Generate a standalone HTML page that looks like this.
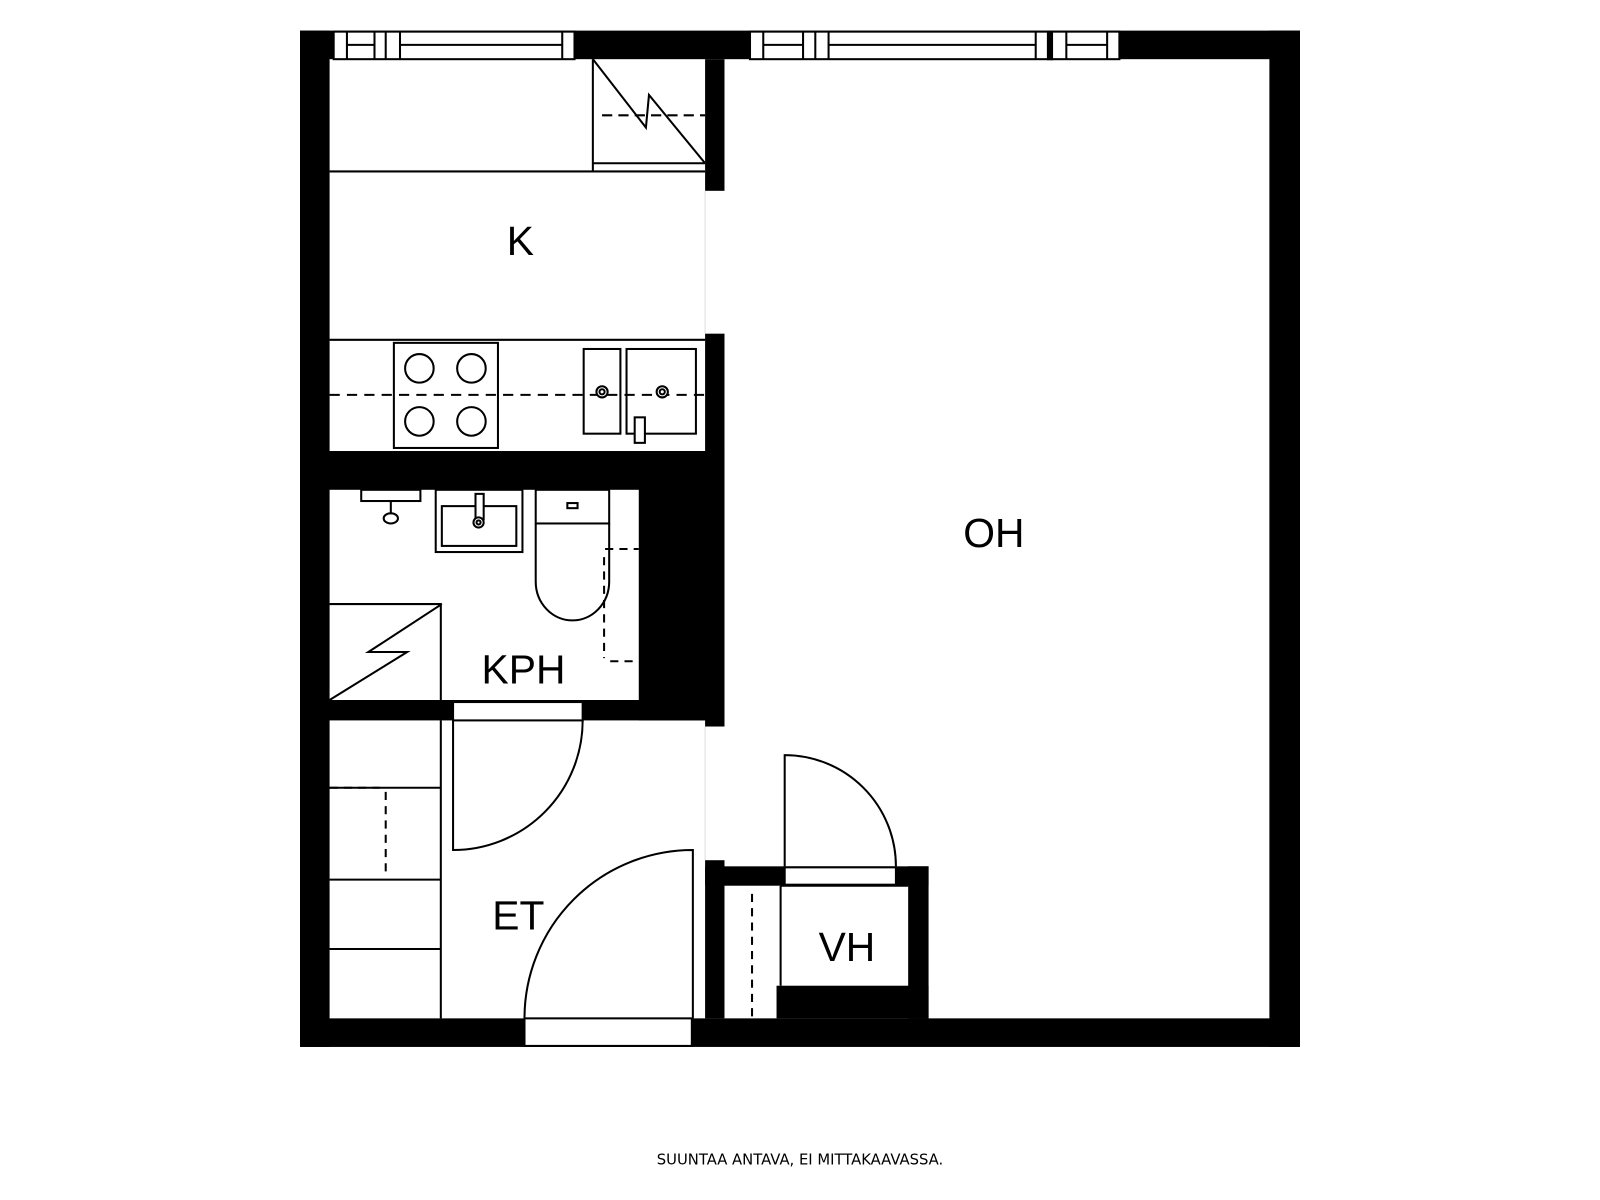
<!DOCTYPE html>
<html><head><meta charset="utf-8"><style>html,body{margin:0;padding:0;background:#fff}svg{display:block}</style></head>
<body>
<svg width="1600" height="1200" viewBox="0 0 1568 1176" xmlns="http://www.w3.org/2000/svg">
<rect width="1568" height="1176" fill="#fff"/>
<g fill="#000">
<rect x="294" y="30" width="980" height="28"/>
<rect x="294" y="30" width="29" height="996"/>
<rect x="1244" y="30" width="30" height="996"/>
<rect x="294" y="998" width="980" height="28"/>
<rect x="691" y="58" width="19" height="129"/>
<rect x="691" y="327" width="19" height="115"/>
<rect x="294" y="442" width="416" height="38"/>
<rect x="626" y="442" width="84" height="264"/>
<rect x="691" y="442" width="19" height="270"/>
<rect x="294" y="686" width="416" height="20"/>
<rect x="691" y="843" width="19" height="155"/>
<rect x="691" y="849" width="219" height="19"/>
<rect x="890" y="849" width="20" height="149"/>
<rect x="761" y="966" width="149" height="32"/>
</g>
<g fill="#fff" stroke="#000" stroke-width="2">
<rect x="327" y="31" width="236" height="27"/>
<rect x="735" y="31" width="362" height="27"/>
<rect x="444" y="688" width="127" height="18"/>
<rect x="514" y="998" width="164" height="27"/>
<rect x="769" y="850" width="109" height="17"/>
</g>
<g stroke="#000" stroke-width="2" fill="none">
<path d="M340 31V58M367 31V58M378 31V58M392 31V58M551 31V58M340 44H367M392 44H551"/>
<path d="M748 31V58M787 31V58M799 31V58M812 31V58M1015 31V58M1027 31V58M1045 31V58M1085 31V58M748 44H787M812 44H1015M1045 44H1085"/>
<rect x="1027" y="31" width="4" height="27" fill="#000"/>
<path d="M323 168H691M581 58V168M581 160H691M581 58L633 125L636 93L691 160"/>
<path d="M590 113H691" stroke-dasharray="10 6"/>
<path d="M323 333H691"/>
<path d="M323 387H691" stroke-dasharray="10 7"/>
<rect x="386" y="336" width="102" height="103" fill="none"/>
<circle cx="411" cy="361" r="14"/><circle cx="462" cy="361" r="14"/>
<circle cx="411" cy="413" r="14"/><circle cx="462" cy="413" r="14"/>
<rect x="572" y="342" width="36" height="83"/>
<rect x="614" y="342" width="68" height="83"/>
<circle cx="590" cy="384" r="5.5" fill="#fff"/><circle cx="590" cy="384" r="2.5"/>
<circle cx="649" cy="384" r="5.5" fill="#fff"/><circle cx="649" cy="384" r="2.5"/>
<rect x="622" y="409" width="10" height="25" fill="#fff"/>
<rect x="354" y="480" width="58" height="11"/>
<path d="M383 491V504"/>
<ellipse cx="383" cy="508" rx="7" ry="5"/>
<rect x="427" y="480" width="85" height="61"/>
<rect x="433" y="496" width="73" height="39"/>
<rect x="466" y="484" width="8" height="25" fill="#fff"/>
<circle cx="469" cy="512" r="5" fill="#fff"/><circle cx="469" cy="512" r="2"/>
<rect x="525" y="480" width="72" height="33"/>
<rect x="556" y="493" width="10" height="5"/>
<path d="M525 513V570A36 38 0 0 0 597 570V513"/>
<path d="M593 538H626M592 546V645M598 648H626" stroke-dasharray="8 6"/>
<path d="M323 592H432V686M323 686L399 639L361 639L433 592"/>
<path d="M432 706V998M323 772H432M323 862H432M323 930H432"/>
<path d="M323 772H372M378 776V857" stroke-dasharray="8 6"/>
<path d="M444 706V833A127 127 0 0 0 571 706"/>
<path d="M679 998V833A165 165 0 0 0 514 998"/>
<path d="M765 868V966M765 868H890"/>
<path d="M737 876V998" stroke-dasharray="8 6"/>
<path d="M769 849V740A109 109 0 0 1 878 849"/>
</g>
<g stroke="#ddd" stroke-width="1"><path d="M691 187V327M691 712V843"/></g>
<g font-family="Liberation Sans, sans-serif" font-size="40" fill="#000" text-anchor="middle">
<text x="510" y="250">K</text>
<text x="974" y="536">OH</text>
<text x="513" y="670">KPH</text>
<text x="508" y="911">ET</text>
<text x="830" y="942">VH</text>
</g>
<text x="784" y="1141" font-family="DejaVu Sans, sans-serif" font-size="14.5" text-anchor="middle" fill="#000">SUUNTAA ANTAVA, EI MITTAKAAVASSA.</text>
</svg>
</body></html>
